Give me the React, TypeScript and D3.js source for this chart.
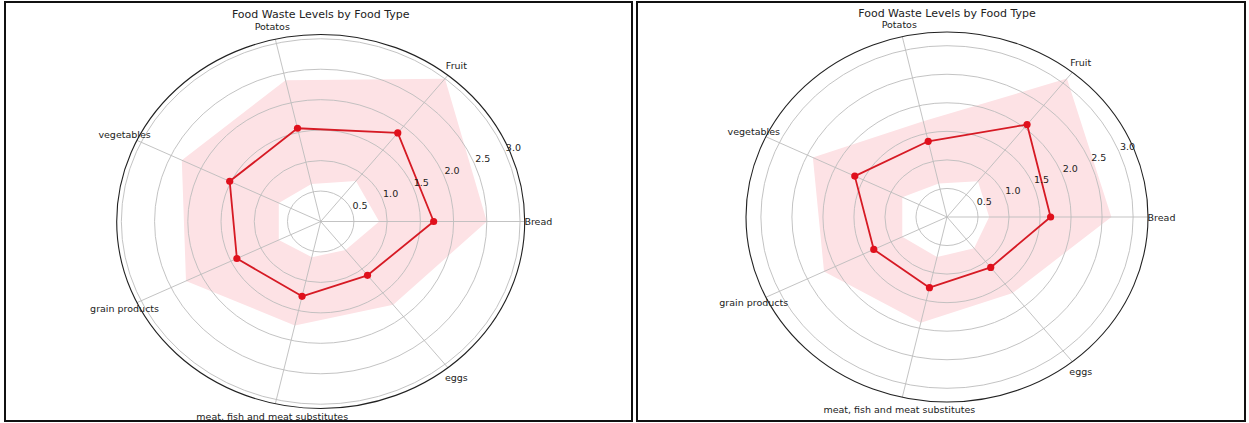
import React from "react";
import * as d3 from "d3";

// Food categories, counter-clockwise from the east axis
const categories = [
  "Bread",
  "Fruit",
  "Potatos",
  "vegetables",
  "grain products",
  "meat, fish and meat substitutes",
  "eggs",
];

const radialTicks = [0.5, 1.0, 1.5, 2.0, 2.5, 3.0];

// Panel A: waste level with its lower / upper range
const wasteA = [1.7, 1.86, 1.57, 1.52, 1.4, 1.26, 1.13];
const upperA = [2.5, 3.0, 2.38, 2.32, 2.25, 1.75, 1.75];
const lowerA = [0.88, 0.85, 0.63, 0.7, 0.7, 0.6, 0.6];

// Panel B: waste level with its lower / upper range
const wasteB = [1.67, 2.07, 1.36, 1.65, 1.31, 1.27, 1.13];
const upperB = [2.65, 3.1, 1.72, 2.4, 2.2, 1.9, 1.7];
const lowerB = [0.68, 0.8, 0.6, 0.8, 0.8, 0.72, 0.7];

const TITLE = "Food Waste Levels by Food Type";
const FONT = "DejaVu Sans, Verdana, sans-serif";

type RadarProps = {
  cx: number;
  cy: number;
  rx: number;
  ry: number;
  rMax: number;
  titleY: number;
  values: number[];
  upper: number[];
  lower: number[];
};

function Radar({ cx, cy, rx, ry, rMax, titleY, values, upper, lower }: RadarProps) {
  const n = categories.length;
  const angle = d3
    .scaleLinear()
    .domain([0, n])
    .range([0, 2 * Math.PI]);
  const r = d3.scaleLinear().domain([0, rMax]).range([0, 1]);

  const px = (v: number, a: number) => cx + r(v) * rx * Math.cos(a);
  const py = (v: number, a: number) => cy - r(v) * ry * Math.sin(a);

  const pts = (vals: number[]) =>
    vals.map((v, i) => [px(v, angle(i)), py(v, angle(i))] as [number, number]);

  const closed = d3
    .line<[number, number]>()
    .x((d) => d[0])
    .y((d) => d[1])
    .curve(d3.curveLinearClosed);

  const bandPath = (closed(pts(upper)) || "") + (closed(pts(lower)) || "");
  const linePts = pts(values);

  const labelAngle = (22.5 * Math.PI) / 180;

  return (
    <g>
      <path d={bandPath} fill="#fde2e5" fillRule="evenodd" stroke="none" />

      {radialTicks.map((t) => (
        <ellipse
          key={`ring-${t}`}
          cx={cx}
          cy={cy}
          rx={r(t) * rx}
          ry={r(t) * ry}
          fill="none"
          stroke="#bcbcbc"
          strokeWidth={0.9}
        />
      ))}
      {categories.map((c, i) => (
        <line
          key={`spoke-${c}`}
          x1={cx}
          y1={cy}
          x2={px(rMax, angle(i))}
          y2={py(rMax, angle(i))}
          stroke="#bcbcbc"
          strokeWidth={0.9}
        />
      ))}
      <ellipse cx={cx} cy={cy} rx={rx} ry={ry} fill="none" stroke="#222" strokeWidth={1.1} />

      <path
        d={closed(linePts) || ""}
        fill="none"
        stroke="#d61a24"
        strokeWidth={1.8}
        strokeLinejoin="round"
      />
      {linePts.map((p, i) => (
        <circle key={`pt-${i}`} cx={p[0]} cy={p[1]} r={3.6} fill="#e0101c" />
      ))}

      {radialTicks.map((t) => (
        <text
          key={`tl-${t}`}
          x={px(t, labelAngle) + 1}
          y={py(t, labelAngle) - 1}
          fontSize={9.5}
          fontFamily={FONT}
          fill="#222"
          textAnchor="start"
        >
          {t.toFixed(1)}
        </text>
      ))}

      {categories.map((c, i) => (
        <text
          key={`cl-${c}`}
          x={px(rMax * 1.067, angle(i))}
          y={py(rMax * 1.067, angle(i))}
          fontSize={9.5}
          fontFamily={FONT}
          fill="#222"
          textAnchor="middle"
          dominantBaseline="central"
        >
          {c}
        </text>
      ))}

      <text
        x={cx}
        y={titleY}
        fontSize={11}
        fontFamily={FONT}
        fill="#222"
        textAnchor="middle"
        dominantBaseline="central"
      >
        {TITLE}
      </text>
    </g>
  );
}

export default function App() {
  return (
    <svg
      width={1249}
      height={423}
      viewBox="0 0 1249 423"
      style={{ position: "absolute", left: 0, top: 0, background: "#fff" }}
    >
      <rect x={0} y={0} width={1249} height={423} fill="#fff" />
      <rect x={5} y={2} width={627} height={419} fill="none" stroke="#111" strokeWidth={2} />
      <rect x={637} y={2} width={608} height={419} fill="none" stroke="#111" strokeWidth={2} />
      <Radar
        cx={320.7}
        cy={221.5}
        rx={204}
        ry={187}
        rMax={3.07}
        titleY={14.5}
        values={wasteA}
        upper={upperA}
        lower={lowerA}
      />
      <Radar
        cx={947}
        cy={217}
        rx={201}
        ry={185}
        rMax={3.24}
        titleY={13.5}
        values={wasteB}
        upper={upperB}
        lower={lowerB}
      />
    </svg>
  );
}
